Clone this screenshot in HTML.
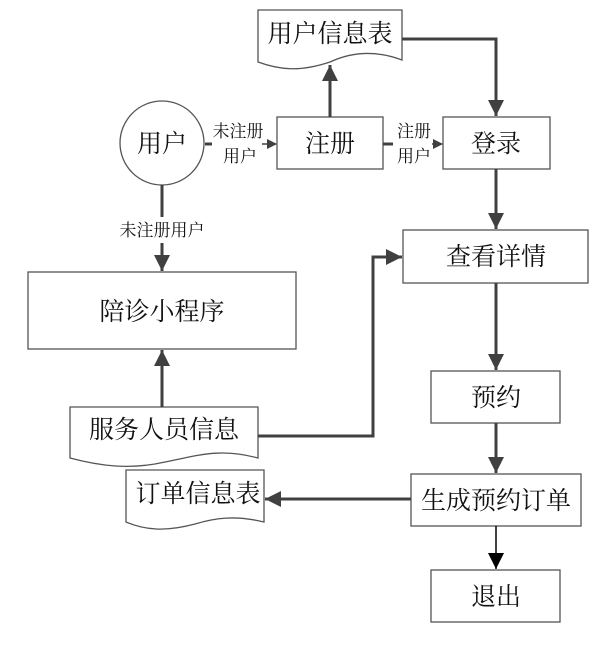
<!DOCTYPE html>
<html><head><meta charset="utf-8"><style>
body{margin:0;background:#fff}
text{font-family:"Liberation Serif","Noto Serif CJK SC",serif;fill:#111}
</style></head><body>
<svg width="611" height="640" xmlns="http://www.w3.org/2000/svg">
<defs>
<marker id="a" markerWidth="10" markerHeight="10" refX="9" refY="5" orient="auto" markerUnits="userSpaceOnUse"><path d="M0,0 L10,5 L0,10z" fill="#404040"/></marker>
<marker id="b" markerWidth="18" markerHeight="18" refX="16" refY="8" orient="auto" markerUnits="userSpaceOnUse"><path d="M0,0 L16,8 L0,16z" fill="#404040"/></marker>
<marker id="c" markerWidth="18" markerHeight="18" refX="16" refY="8" orient="auto" markerUnits="userSpaceOnUse"><path d="M0,0 L16,8 L0,16z" fill="#000"/></marker>
</defs>
<g fill="#fff" stroke="#555" stroke-width="1.3">
<path d="M258,10 H402 V60 C370,48 345,55 330,62 C300,72 280,70 258,62 Z"/>
<circle cx="162" cy="143" r="42"/>
<rect x="277" y="117" width="106" height="52"/>
<rect x="443" y="117" width="107" height="52"/>
<rect x="403" y="230" width="185" height="53"/>
<rect x="28" y="272" width="268" height="77"/>
<path d="M70,407 H258 V458 C220,448 200,455 165,462 C130,470 100,466 70,458 Z"/>
<rect x="431" y="371" width="129" height="52"/>
<rect x="411" y="474" width="170" height="52"/>
<path d="M126,470 H264 V522 C235,515 215,518 195,524 C165,532 145,530 126,522 Z"/>
<rect x="431" y="570" width="129" height="52"/>
</g>
<g stroke="#404040" stroke-width="3" fill="none">
<line x1="205" y1="144" x2="212" y2="144"/>
<line x1="262" y1="144" x2="276" y2="144" stroke-width="1.5" marker-end="url(#a)"/>
<line x1="383" y1="144" x2="393" y2="144"/>
<line x1="432" y1="144" x2="442" y2="144" stroke-width="1.5" marker-end="url(#a)"/>
<line x1="330" y1="117" x2="330" y2="65" marker-end="url(#b)"/>
<polyline points="402,39 496,39 496,116" marker-end="url(#b)"/>
<line x1="496" y1="169" x2="496" y2="229" marker-end="url(#b)"/>
<line x1="162" y1="185" x2="162" y2="217"/>
<line x1="162" y1="243" x2="162" y2="271" marker-end="url(#b)"/>
<line x1="162" y1="407" x2="162" y2="350" marker-end="url(#b)"/>
<polyline points="258,436 373,436 373,257 402,257" marker-end="url(#b)"/>
<line x1="496" y1="283" x2="496" y2="370" marker-end="url(#b)"/>
<line x1="496" y1="423" x2="496" y2="473" marker-end="url(#b)"/>
<line x1="411" y1="499" x2="265" y2="499" marker-end="url(#b)"/>
</g>
<line x1="496" y1="526" x2="496" y2="569" stroke="#000" stroke-width="1.5" marker-end="url(#c)"/>
<g font-size="25" text-anchor="middle">
<text x="330" y="42">用户信息表</text>
<text x="162" y="152">用户</text>
<text x="330" y="152">注册</text>
<text x="496" y="152">登录</text>
<text x="496" y="265">查看详情</text>
<text x="162" y="320">陪诊小程序</text>
<text x="164" y="438">服务人员信息</text>
<text x="496" y="406">预约</text>
<text x="496" y="509">生成预约订单</text>
<text x="198" y="502">订单信息表</text>
<text x="496" y="605">退出</text>
</g>
<g font-size="17" text-anchor="middle">
<text x="238" y="137">未注册</text>
<text x="240" y="162">用户</text>
<text x="414" y="137">注册</text>
<text x="414" y="162">用户</text>
<text x="162" y="236">未注册用户</text>
</g>
</svg>
</body></html>
